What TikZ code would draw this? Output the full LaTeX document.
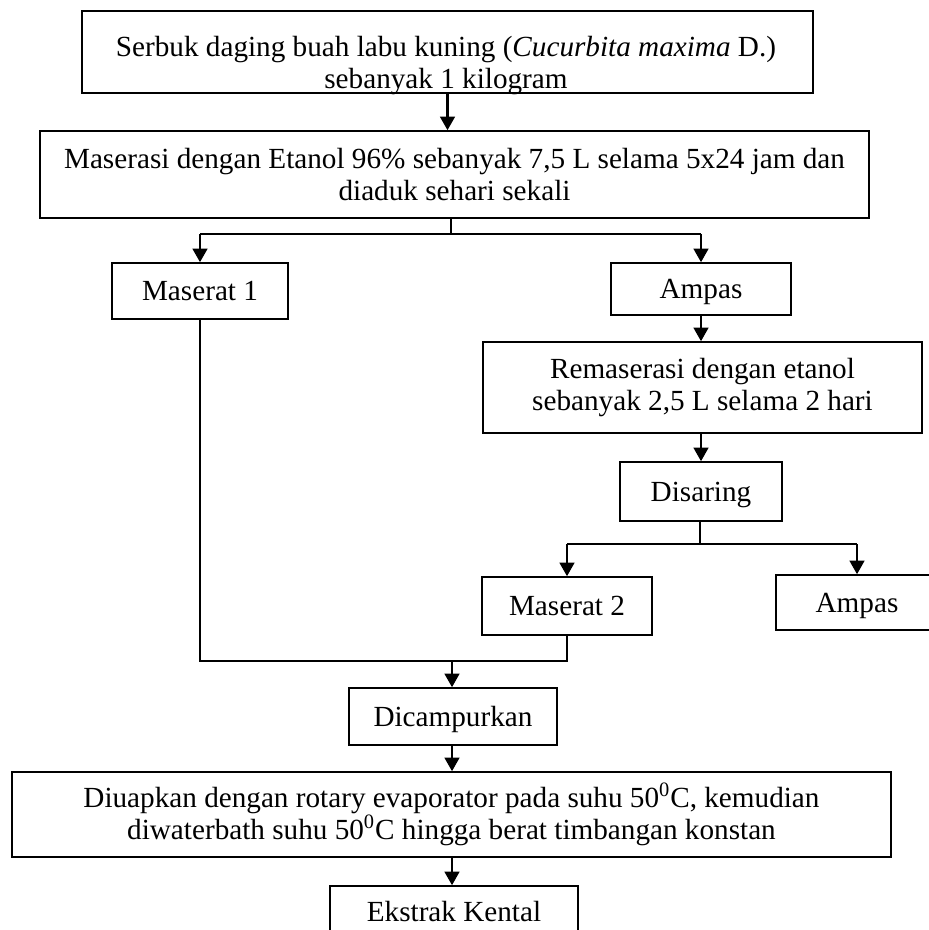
\documentclass[tikz,border=0pt]{standalone}
\usepackage{fontspec}
\setmainfont{Liberation Serif}
\usetikzlibrary{arrows.meta}
\begin{document}
\begin{tikzpicture}[x=0.5pt, y=-0.5pt,
  kotak/.style={draw, line width=0.8pt, align=center, inner sep=0pt, font=\fontsize{14.6}{16}\selectfont},
  satu/.style={kotak, text height=9.7pt, text depth=0pt},
  garis/.style={line width=0.8pt},
  panah/.style={line width=1.1pt, -{Triangle[length=6.8pt,width=7.4pt]}}]
\useasboundingbox (0,0) rectangle (928,930);

% kotak proses
\node[kotak, minimum width=365.5pt, minimum height=41pt] (serbuk) at (447.5,52) {};
\node[align=center, inner sep=0pt, font=\fontsize{14.6}{16}\selectfont] (serbukteks) at (446,66) {Serbuk daging buah labu kuning (\textit{Cucurbita maxima} D.)\\ sebanyak 1 kilogram};
\node[kotak, minimum width=414.5pt, minimum height=43.5pt] (maserasi) at (454.5,174.5) {Maserasi dengan Etanol 96\% sebanyak 7,5 L selama 5x24 jam dan\\ diaduk sehari sekali};
\node[satu, minimum width=88pt, minimum height=28pt] (maserat1) at (200,291) {Maserat 1};
\node[satu, minimum width=90pt, minimum height=26pt] (ampas1) at (701,289) {Ampas};
\node[kotak, minimum width=219.5pt, minimum height=45.5pt] (remaserasi) at (702.5,387.5) {Remaserasi dengan etanol\\ sebanyak 2,5 L selama 2 hari};
\node[satu, minimum width=81pt, minimum height=29.5pt] (disaring) at (701,491.5) {Disaring};
\node[satu, minimum width=85pt, minimum height=29pt] (maserat2) at (567,606) {Maserat 2};
\node[satu, minimum width=81pt, minimum height=27.5pt] (ampas2) at (857,602.5) {Ampas};
\node[satu, minimum width=104pt, minimum height=28.5pt] (dicampur) at (453,716.5) {Dicampurkan};
\node[kotak, minimum width=439.5pt, minimum height=42.5pt] (diuapkan) at (451.5,814.5) {Diuapkan dengan rotary evaporator pada suhu 50\textsuperscript{0}C, kemudian\\ diwaterbath suhu 50\textsuperscript{0}C hingga berat timbangan konstan};
\node[satu, minimum width=124pt, minimum height=26pt] (ekstrak) at (454,912) {Ekstrak Kental};

% titik cabang
\coordinate (cabang1) at (451,234);
\coordinate (cabang2) at (700,544);
\coordinate (gabung) at (452,661);

\draw[panah] (serbuk.south) -- (serbuk.south |- maserasi.north);
\draw[garis] (cabang1 |- maserasi.south) -- (cabang1);
\draw[garis] (cabang1 -| maserat1) -- (cabang1 -| ampas1);
\draw[panah] (cabang1 -| maserat1) -- (maserat1.north);
\draw[panah] (cabang1 -| ampas1) -- (ampas1.north);
\draw[panah] (ampas1.south) -- (ampas1.south |- remaserasi.north);
\draw[panah] (remaserasi.south -| disaring) -- (disaring.north);
\draw[garis] (disaring.south -| cabang2) -- (cabang2);
\draw[garis] (cabang2 -| maserat2) -- (cabang2 -| ampas2);
\draw[panah] (cabang2 -| maserat2) -- (maserat2.north);
\draw[panah] (cabang2 -| ampas2) -- (ampas2.north);
\draw[garis] (maserat1.south) |- (gabung -| maserat2) -- (maserat2.south);
\draw[panah] (gabung) -- (gabung |- dicampur.north);
\draw[panah] (dicampur.south -| gabung) -- (gabung |- diuapkan.north);
\draw[panah] (diuapkan.south -| gabung) -- (gabung |- ekstrak.north);

\end{tikzpicture}
\end{document}
